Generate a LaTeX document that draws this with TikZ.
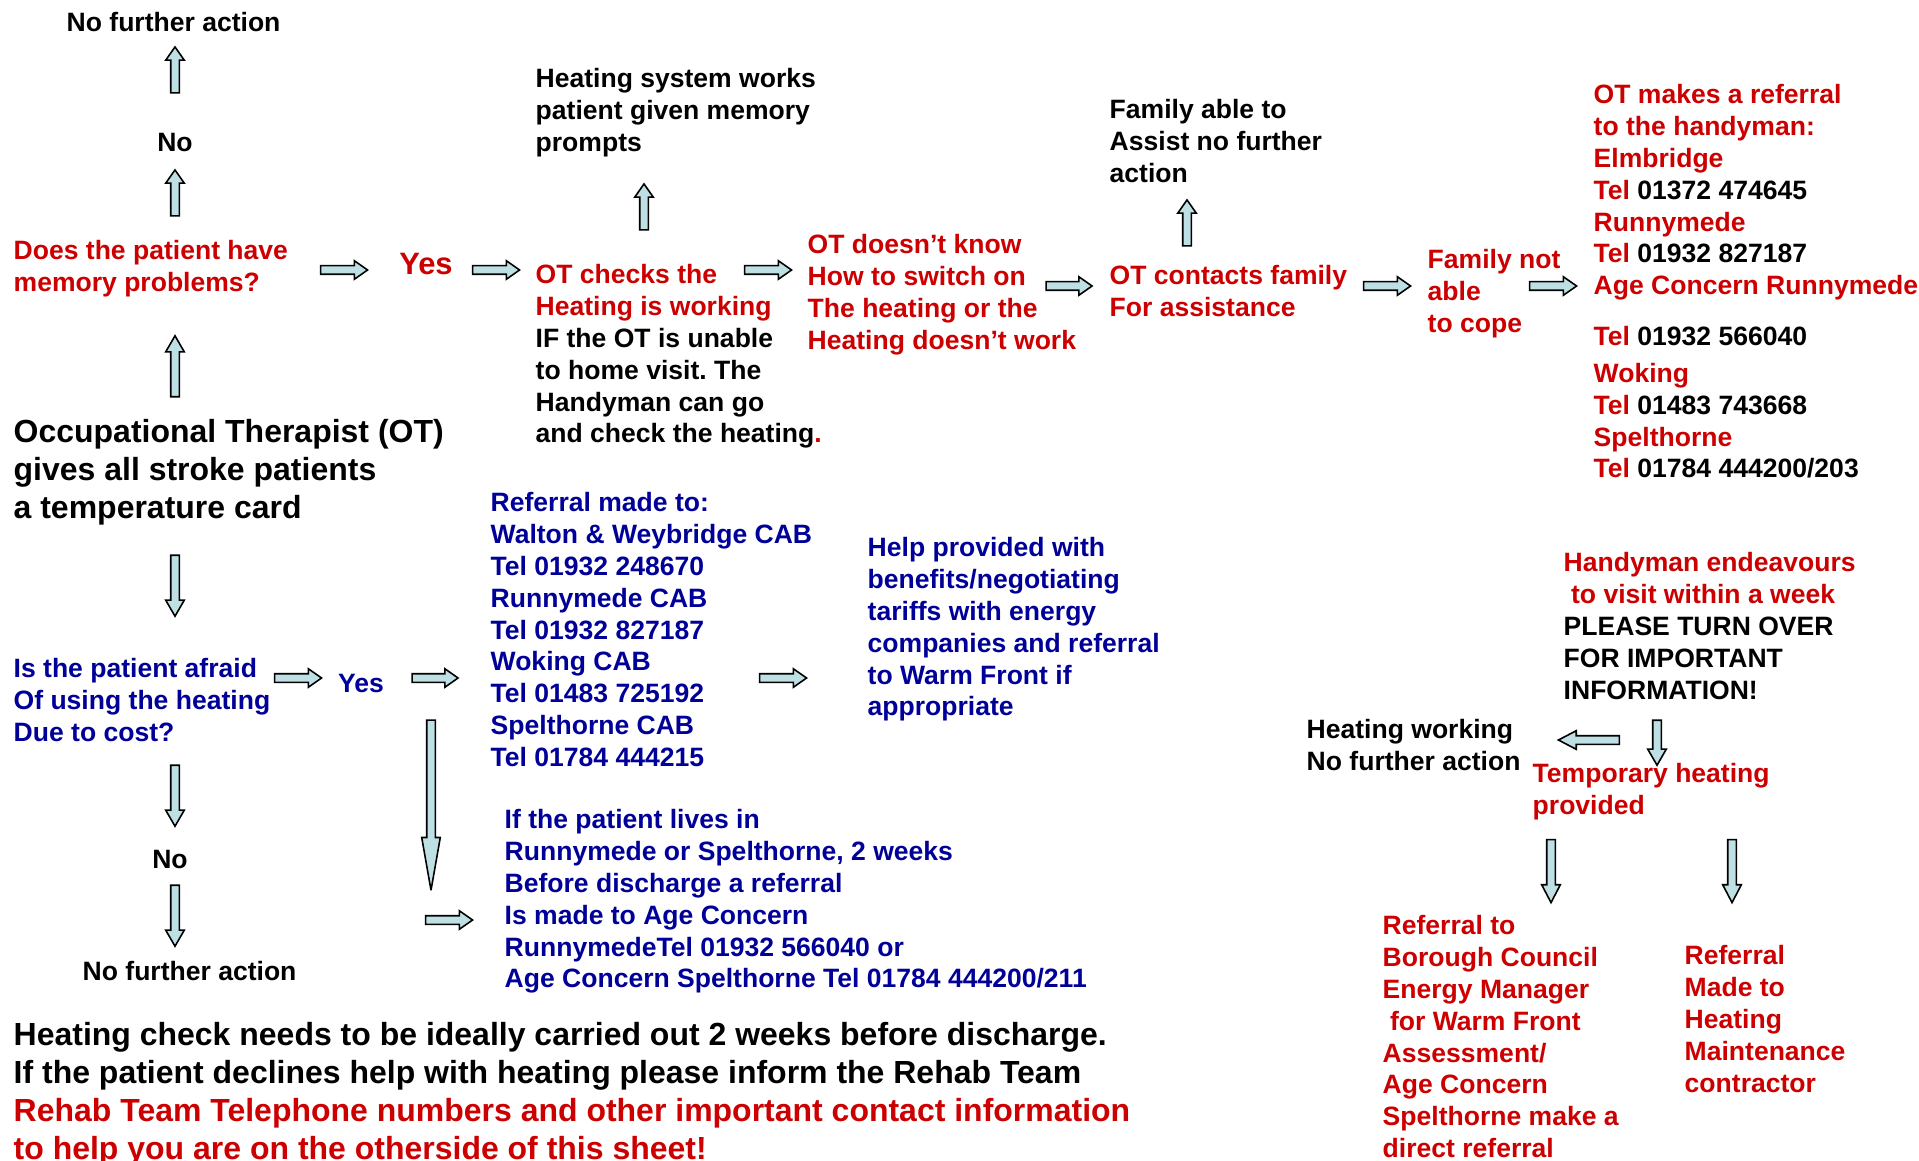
\documentclass[tikz,border=0pt]{standalone}
\usepackage{fontspec}
\setmainfont{Liberation Sans}
\usepackage{xcolor}
\usetikzlibrary{shapes.arrows}
\frenchspacing
\definecolor{otred}{RGB}{204,0,0}
\definecolor{otblue}{RGB}{0,0,153}
\definecolor{arrowfill}{RGB}{190,224,228}
\tikzset{
  txt/.style={anchor=north west, align=left, inner sep=0pt, font=\bfseries\fontsize{7.55}{9.05}\selectfont},
  bigtxt/.style={txt, font=\bfseries\fontsize{9.1}{10.8}\selectfont},
  barrow/.style={single arrow, draw=black, line width=0.45pt, fill=arrowfill, inner sep=0.35mm,
    single arrow head extend=0.5mm, single arrow tip angle=70, minimum height=#1},
  pointup/.style={shape border rotate=90},
  pointdown/.style={shape border rotate=270},
  pointleft/.style={shape border rotate=180},
}
\begin{document}
\begin{tikzpicture}[x=0.1mm, y=-0.1mm]
  \useasboundingbox (0,0) rectangle (1919,1160);
  % memory question column
  \node[txt] (nfa1) at (66,12) {No further action};
  \node[barrow=4.6mm, pointup] (up1) at (175,73) {};
  \node[txt, anchor=center] (no1) at (175,143) {No};
  \node[barrow=4.6mm, pointup] (up2) at (175,196) {};
  \node[txt, text=otred] (memory) at (13,240) {Does the patient have\\ memory problems?};
  \node[barrow=4.7mm] (r1) at (341,270) {};
  \node[txt, anchor=center, text=otred, font=\bfseries\fontsize{8.8}{10}\selectfont] (yes1) at (426,264) {Yes};
  \node[barrow=4.7mm] (r2) at (493,270) {};
  \node[txt] (checks) at (535,264) {\textcolor{otred}{OT checks the}\\ \textcolor{otred}{Heating is working}\\
    IF the OT is unable\\ to home visit. The\\ Handyman can go\\ and check the heating\textcolor{otred}{.}};
  \node[barrow=4.6mm, pointup] (up3) at (644,210) {};
  \node[txt] (works) at (535,68) {Heating system works\\ patient given memory\\ prompts};
  \node[barrow=4.7mm] (r3) at (765,270) {};
  \node[txt, text=otred] (doesnt) at (807,234) {OT doesn’t know\\ How to switch on\\ The heating or the\\ Heating doesn’t work};
  \node[barrow=4.6mm] (r4) at (1066,286) {};
  \node[txt, text=otred] (contacts) at (1109,265) {OT contacts family\\ For assistance};
  \node[barrow=4.6mm, pointup] (up4) at (1187,226) {};
  \node[txt] (famable) at (1109,99) {Family able to\\ Assist no further\\ action};
  \node[barrow=4.7mm] (r5) at (1384,286) {};
  \node[txt, text=otred] (famnot) at (1427,249) {Family not\\ able\\ to cope};
  \node[barrow=4.7mm] (r6) at (1550,286) {};
  \node[txt, text=otred] (handy) at (1593,84) {OT makes a referral\\ to the handyman:\\ Elmbridge\\
    Tel \textcolor{black}{01372 474645}\\ Runnymede\\ Tel \textcolor{black}{01932 827187}\\
    Age Concern Runnymede\\[1.9mm] Tel \textcolor{black}{01932 566040}\\[0.5mm] Woking\\
    Tel \textcolor{black}{01483 743668}\\ Spelthorne\\ Tel \textcolor{black}{01784 444200/203}};
  % temperature card and cost question
  \node[bigtxt] (card) at (13,419) {Occupational Therapist (OT)\\ gives all stroke patients\\ a temperature card};
  \node[barrow=6.1mm, pointup, single arrow tip angle=60] (up5) at (175,370) {};
  \node[barrow=6.1mm, pointdown, single arrow tip angle=60] (d1) at (175,582) {};
  \node[txt, text=otblue] (afraid) at (13,658) {Is the patient afraid\\ Of using the heating\\ Due to cost?};
  \node[barrow=4.7mm] (r7) at (295,678) {};
  \node[txt, anchor=center, text=otblue] (yes2) at (361,683) {Yes};
  \node[barrow=4.6mm] (r8) at (432,678) {};
  \node[txt, text=otblue] (cab) at (490,492) {Referral made to:\\ Walton \& Weybridge CAB\\ Tel 01932 248670\\
    Runnymede CAB\\ Tel 01932 827187\\ Woking CAB\\ Tel 01483 725192\\ Spelthorne CAB\\ Tel 01784 444215};
  \node[barrow=4.7mm] (r9) at (780,678) {};
  \node[txt, text=otblue] (help) at (867,537) {Help provided with\\ benefits/negotiating\\ tariffs with energy\\
    companies and referral\\ to Warm Front if\\ appropriate};
  \node[barrow=17mm, pointdown, single arrow tip angle=20, miter limit=3] (d2) at (431,793) {};
  \node[barrow=6.1mm, pointdown, single arrow tip angle=60] (d3) at (175,792) {};
  \node[txt, anchor=center] (no2) at (170,859) {No};
  \node[barrow=6.1mm, pointdown, single arrow tip angle=60] (d4) at (175,912) {};
  \node[txt] (nfa2) at (82,961) {No further action};
  \node[barrow=4.7mm] (r10) at (446,920) {};
  \node[txt, text=otblue] (agecon) at (504,809) {If the patient lives in\\ Runnymede or Spelthorne, 2 weeks\\
    Before discharge a referral\\ Is made to Age Concern\\ RunnymedeTel 01932 566040 or\\
    Age Concern Spelthorne Tel 01784 444200/211};
  \node[bigtxt] (notes) at (13,1022) {Heating check needs to be ideally carried out 2 weeks before discharge.\\
    If the patient declines help with heating please inform the Rehab Team\\
    \textcolor{otred}{Rehab Team Telephone numbers and other important contact information}\\
    \textcolor{otred}{to help you are on the otherside of this sheet!}};
  % handyman visit
  \node[txt] (visit) at (1563,552) {\textcolor{otred}{Handyman endeavours}\\ \textcolor{otred}{\ to visit within a week}\\
    PLEASE TURN OVER\\ FOR IMPORTANT\\ INFORMATION!};
  \node[barrow=4.5mm, pointdown, single arrow tip angle=60] (d5) at (1657,739) {};
  \node[barrow=6.1mm, pointleft, single arrow tip angle=55] (l1) at (1593,740) {};
  \node[txt] (working) at (1306,719) {Heating working\\ No further action};
  \node[txt, text=otred] (temp) at (1532,763) {Temporary heating\\ provided};
  \node[barrow=6.3mm, pointdown, single arrow tip angle=55] (d6) at (1551,867) {};
  \node[barrow=6.3mm, pointdown, single arrow tip angle=55] (d7) at (1732,867) {};
  \node[txt, text=otred] (borough) at (1382,915) {Referral to\\ Borough Council\\ Energy Manager\\ \ for Warm Front\\
    Assessment/\\ Age Concern\\ Spelthorne make a\\ direct referral};
  \node[txt, text=otred] (maint) at (1684,945) {Referral\\ Made to\\ Heating\\ Maintenance\\ contractor};
\end{tikzpicture}
\end{document}
